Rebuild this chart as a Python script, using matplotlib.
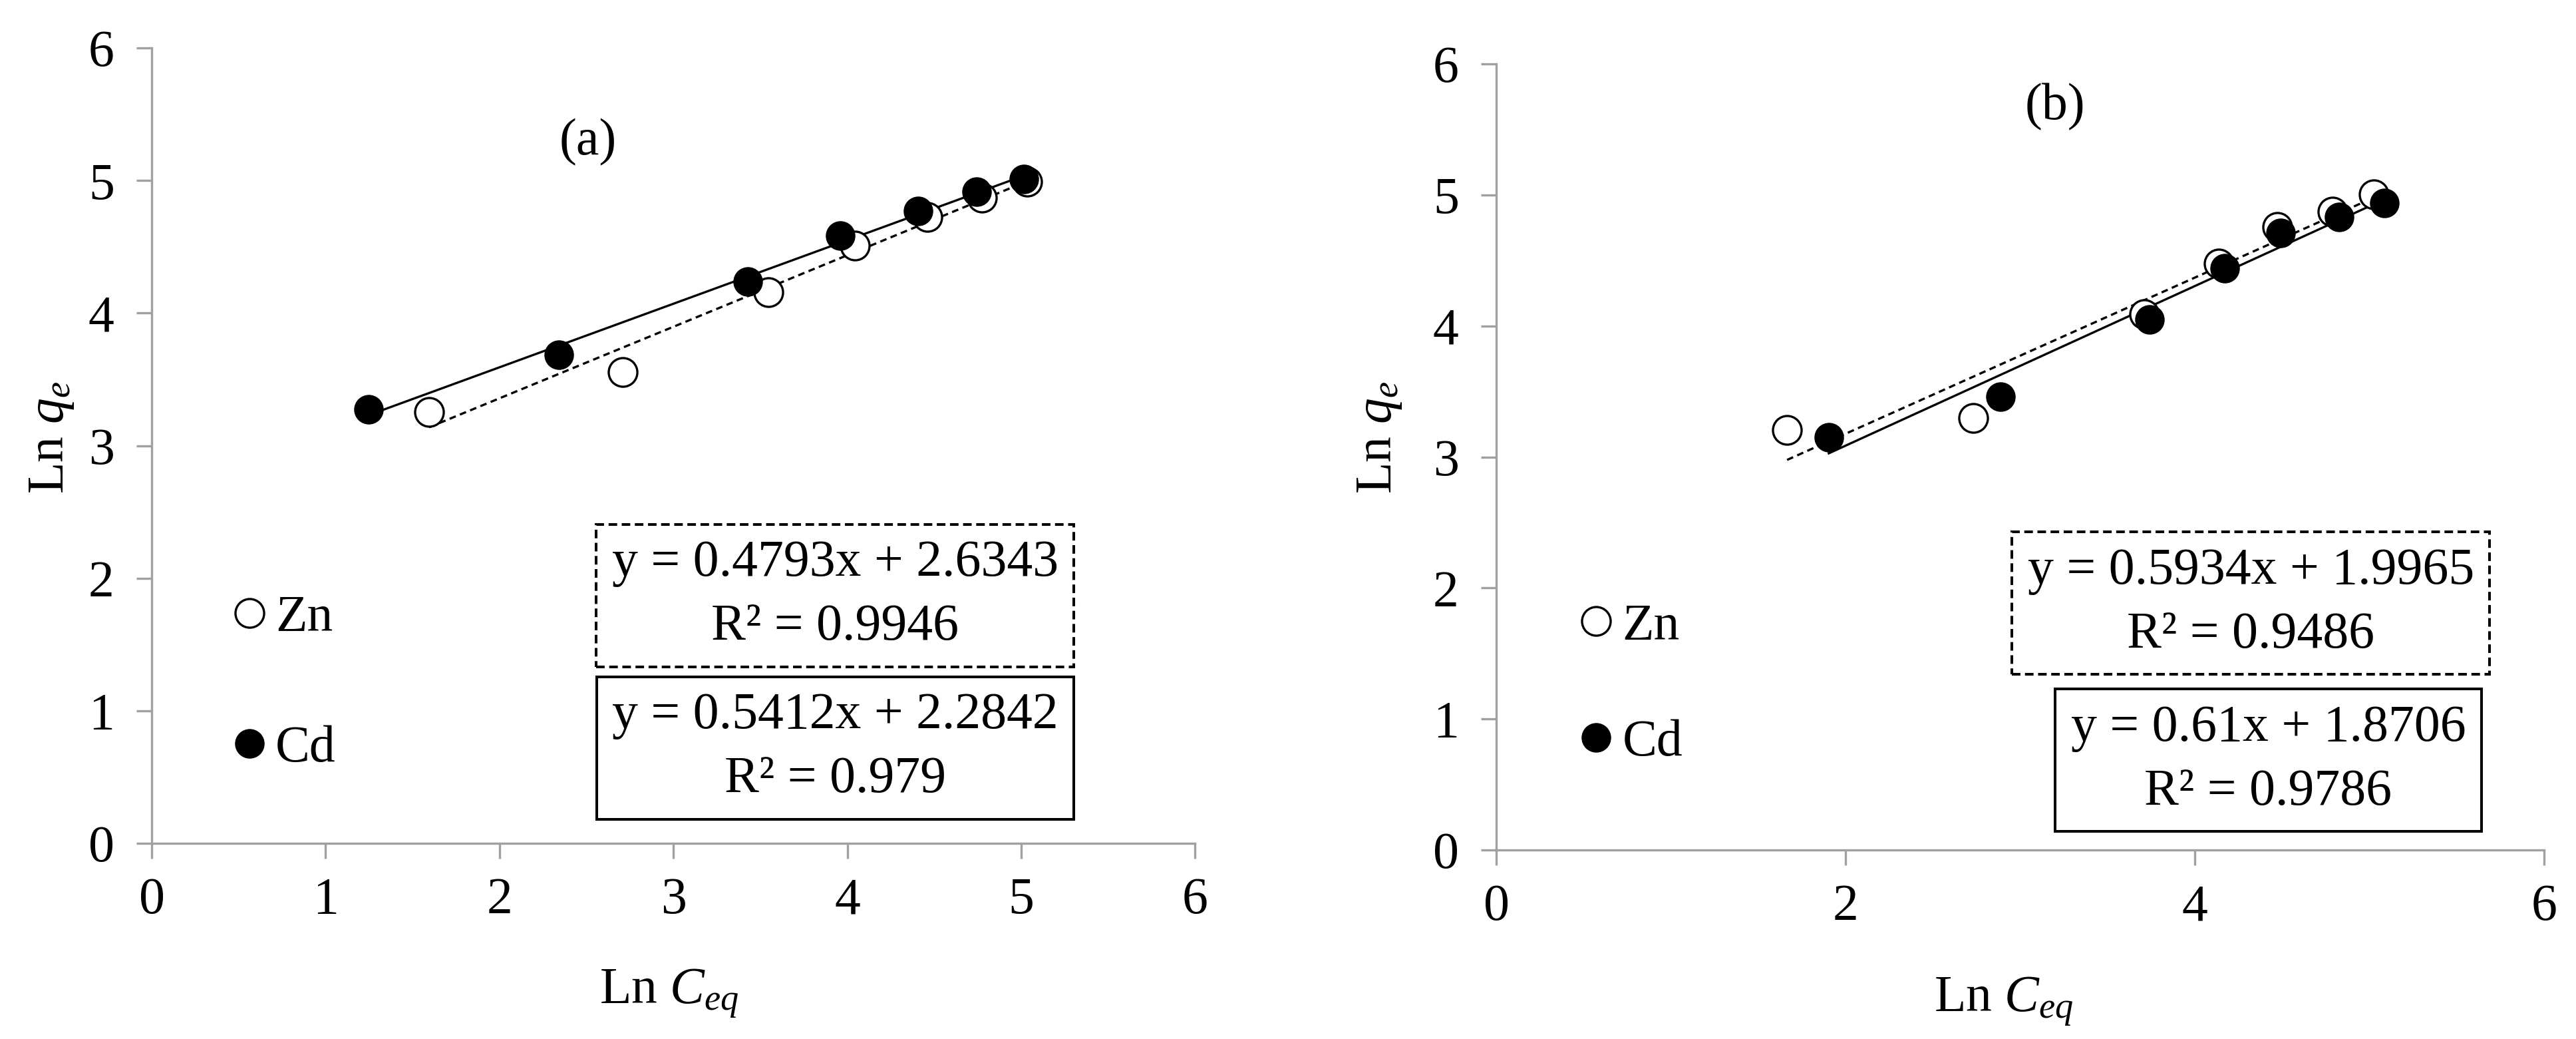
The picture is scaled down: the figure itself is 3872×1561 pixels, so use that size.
import matplotlib
matplotlib.use("Agg")
import matplotlib.pyplot as plt
import numpy as np

plt.rcParams["font.family"] = ["Liberation Serif", "DejaVu Serif"]
plt.rcParams["mathtext.fontset"] = "custom"
plt.rcParams["mathtext.rm"] = "Liberation Serif"
plt.rcParams["mathtext.it"] = "Liberation Serif:italic"

# ── Data ──────────────────────────────────────────────────────────────────────
# panel (a)
a_zn_x = [1.595, 2.707, 3.547, 4.043, 4.460, 4.775, 5.035]
a_zn_y = [3.255, 3.555, 4.160, 4.510, 4.725, 4.870, 4.990]
a_cd_x = [1.247, 2.341, 3.426, 3.959, 4.409, 4.743, 5.016]
a_cd_y = [3.275, 3.685, 4.240, 4.585, 4.770, 4.915, 5.010]
a_eq_dash = "y = 0.4793x + 2.6343\nR² = 0.9946"
a_eq_solid = "y = 0.5412x + 2.2842\nR² = 0.979"

# panel (b)
b_zn_x = [1.665, 2.731, 3.709, 4.135, 4.471, 4.789, 5.023]
b_zn_y = [3.207, 3.298, 4.091, 4.475, 4.753, 4.874, 5.005]
b_cd_x = [1.904, 2.886, 3.742, 4.172, 4.490, 4.827, 5.084]
b_cd_y = [3.152, 3.460, 4.051, 4.440, 4.712, 4.833, 4.939]
b_eq_dash = "y = 0.5934x + 1.9965\nR² = 0.9486"
b_eq_solid = "y = 0.61x + 1.8706\nR² = 0.9786"

FS = 56
GREY = "#a0a0a0"


def trend(ax, x, y, ls):
    k, b = np.polyfit(x, y, 1)
    xs = np.array([min(x), max(x)])
    ax.plot(xs, k * xs + b, color="black", lw=2.4, ls=ls, zorder=2)


def style_axes(ax, xstep):
    ax.set_xlim(0, 6)
    ax.set_ylim(0, 6)
    ax.set_xticks(np.arange(0, 6.01, xstep))
    ax.set_yticks(np.arange(0, 7, 1))
    for s in ("top", "right"):
        ax.spines[s].set_visible(False)
    for s in ("left", "bottom"):
        ax.spines[s].set_color(GREY)
        ax.spines[s].set_linewidth(2.4)
    ax.tick_params(direction="out", length=16.5, width=2.4, color=GREY,
                   labelsize=FS)
    ax.tick_params(axis="x", pad=20)
    ax.tick_params(axis="y", pad=24)


def panel(ax, zn_x, zn_y, cd_x, cd_y, xstep, tag, tag_xy,
          eq_dash, dash_xy, eq_solid, solid_xy, leg_xy, leg_space,
          ylab_xy, xlab_xy):
    style_axes(ax, xstep)
    trend(ax, zn_x, zn_y, (0, (3, 2)))
    trend(ax, cd_x, cd_y, "-")
    h_zn, = ax.plot(zn_x, zn_y, "o", ms=31, mfc="white", mec="black",
                    mew=2.4, label="Zn", zorder=3)
    h_cd, = ax.plot(cd_x, cd_y, "o", ms=31, mfc="black", mec="black",
                    label="Cd", zorder=3)

    ax.text(*tag_xy, tag, fontsize=FS, ha="center", va="center")

    ax.text(*dash_xy, eq_dash, fontsize=FS, ha="center", va="center",
            multialignment="center", linespacing=1.45,
            bbox=dict(boxstyle="square,pad=0.3", fc="white", ec="black",
                      lw=2.9, ls=(0, (3.2, 1.7))))
    ax.text(*solid_xy, eq_solid, fontsize=FS, ha="center", va="center",
            multialignment="center", linespacing=1.45,
            bbox=dict(boxstyle="square,pad=0.3", fc="white", ec="black",
                      lw=2.9))

    ax.legend(handles=[h_zn, h_cd], loc="center left",
              bbox_to_anchor=leg_xy, bbox_transform=ax.transData,
              frameon=False, fontsize=FS, handlelength=0.6,
              handletextpad=0.2, labelspacing=leg_space,
              borderpad=0, borderaxespad=0, markerscale=1.0)

    ax.set_ylabel("Ln $q_e$", fontsize=FS)
    ax.set_xlabel("Ln $C_{eq}$", fontsize=FS)
    ax.yaxis.set_label_coords(*ylab_xy)
    ax.xaxis.set_label_coords(*xlab_xy)


fig = plt.figure(figsize=(38.73, 15.61), dpi=100)
ax_a = fig.add_axes([0.0589, 0.1883, 0.4049, 0.7655])
ax_b = fig.add_axes([0.5807, 0.1819, 0.4067, 0.7566])

panel(ax_a, a_zn_x, a_zn_y, a_cd_x, a_cd_y, 1, "(a)", (2.51, 5.29),
      a_eq_dash, (3.93, 1.87), a_eq_solid, (3.93, 0.72),
      (0.474, 1.205), 1.60, (-0.073, 0.51), (0.496, -0.156))
panel(ax_b, b_zn_x, b_zn_y, b_cd_x, b_cd_y, 2, "(b)", (3.2, 5.67),
      b_eq_dash, (4.32, 1.884), b_eq_solid, (4.42, 0.687),
      (0.484, 1.26), 1.32, (-0.088, 0.525), (0.484, -0.159))

fig.savefig("out.png", dpi=100, facecolor="white")
